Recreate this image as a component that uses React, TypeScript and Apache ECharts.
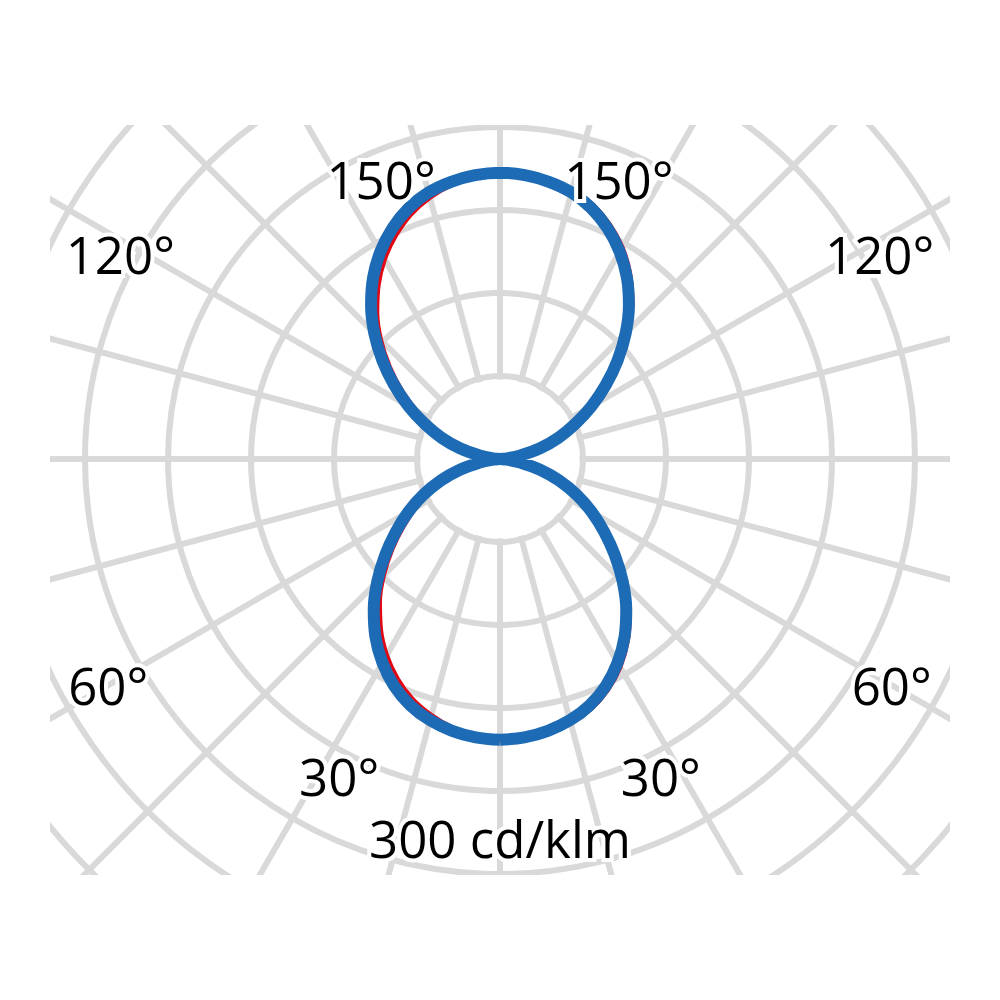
import React, { useEffect, useRef } from 'react';
import * as echarts from 'echarts';

// Photometric angles (gamma) in degrees, step 5, measured from the vertical axis
const GAMMA = [0, 5, 10, 15, 20, 25, 30, 35, 40, 45, 50, 55, 60, 65, 70, 75, 80, 85, 90];

// Intensities in cd/klm. "Lower" = downward lobe (gamma 0..90),
// "Upper" = upward lobe (listed by distance from the top: 0..90, i.e. gamma 180..90)
const BLUE_LOWER = [203, 202, 199.5, 195.5, 189.5, 181, 170, 157, 142, 125.5, 108.5, 92, 76.5, 61, 45.5, 30, 15, 5, 0];
const BLUE_UPPER = [207, 206, 203.5, 199.5, 193, 184, 173, 160, 145, 128.5, 111, 93.5, 76.5, 60, 45, 30, 15, 5, 0];

const RED_RIGHT_LOWER = [203, 202.5, 201, 198, 192.5, 184.5, 174, 161, 146, 129.5, 112.5, 95.5, 79.5, 63.5, 47.5, 31, 15.5, 5, 0];
const RED_RIGHT_UPPER = [207, 206.5, 205, 202, 196, 187.5, 177, 164, 149, 132.5, 115, 97, 79.5, 62.5, 47, 31, 15.5, 5, 0];
const RED_LEFT_LOWER = [203, 201, 197, 191.5, 184.5, 175, 163.5, 150, 135, 118.5, 101.5, 85, 69.5, 54.5, 40, 26, 13, 4.5, 0];
const RED_LEFT_UPPER = [207, 205, 201, 195.5, 188, 178, 166.5, 153, 138, 121.5, 104, 86.5, 69.5, 53.5, 39.5, 26, 13, 4.5, 0];

// Grid scale
const RADIUS_MAX = 480;
const RADIUS_STEP = 60;
const ANGLE_STEP = 15;

// Tick / unit labels
const ANGLE_LABELS = ['150°', '150°', '120°', '120°', '60°', '60°', '30°', '30°'];
const UNIT_LABEL = '300 cd/klm';

// Label placement (layout only): [radius in cd/klm, angle value]
const LABEL_PLACES: [number, number][] = [
  [220, 203], [220, 157],
  [312, 241.6], [312, 118.4],
  [327, 300], [327, 60],
  [257, 333.1], [257, 26.9],
];
const UNIT_PLACE: [number, number] = [274, 0];

function buildLoop(rightLower: number[], rightUpper: number[], leftUpper: number[], leftLower: number[]) {
  const pts: [number, number][] = [];
  for (let i = 0; i < GAMMA.length; i++) pts.push([rightLower[i], GAMMA[i]]);
  for (let i = GAMMA.length - 1; i >= 0; i--) pts.push([rightUpper[i], 180 - GAMMA[i]]);
  for (let i = 0; i < GAMMA.length; i++) pts.push([leftUpper[i], 180 + GAMMA[i]]);
  for (let i = GAMMA.length - 1; i >= 0; i--) pts.push([leftLower[i], 360 - GAMMA[i]]);
  return pts;
}

const CX = 500;
const CY = 459;
const PX_PER_STEP = 83;

// polar (value units, angle value counter-clockwise from the bottom) -> pixel
function toPx(r: number, a: number): [number, number] {
  const rp = (r / RADIUS_STEP) * PX_PER_STEP;
  const t = (a * Math.PI) / 180;
  return [CX + rp * Math.sin(t), CY + rp * Math.cos(t)];
}

export default function App() {
  const ref = useRef<HTMLDivElement>(null);

  useEffect(() => {
    if (!ref.current) return;
    const chart = echarts.init(ref.current, undefined, { renderer: 'svg' });
    const gridColor = '#d9d9d9';
    const font = "51px 'Open Sans', 'Noto Sans', sans-serif";

    const blue = buildLoop(BLUE_LOWER, BLUE_UPPER, BLUE_UPPER, BLUE_LOWER);
    const red = buildLoop(RED_RIGHT_LOWER, RED_RIGHT_UPPER, RED_LEFT_UPPER, RED_LEFT_LOWER);

    const texts = ANGLE_LABELS.map((t, i) => ({ text: t, pos: toPx(LABEL_PLACES[i][0], LABEL_PLACES[i][1]) }));
    texts.push({ text: UNIT_LABEL, pos: toPx(UNIT_PLACE[0], UNIT_PLACE[1]) });

    const textEls: any[] = [];
    texts.forEach((t) => {
      const common = {
        text: t.text,
        font,
        align: 'center',
        verticalAlign: 'middle',
        textAlign: 'center',
        textVerticalAlign: 'middle',
      };
      textEls.push({
        type: 'text', x: t.pos[0], y: t.pos[1], z: 10, silent: true,
        style: { ...common, fill: '#ffffff', stroke: '#ffffff', lineWidth: 8 },
      });
      textEls.push({
        type: 'text', x: t.pos[0], y: t.pos[1], z: 11, silent: true,
        style: { ...common, fill: '#000000' },
      });
    });

    const masks = [
      { type: 'circle', z: 1, shape: { cx: CX, cy: CY, r: PX_PER_STEP - 3.5 }, style: { fill: '#ffffff' }, silent: true },
      { type: 'rect', z: 1, shape: { x: 0, y: 0, width: 1000, height: 125 }, style: { fill: '#ffffff' }, silent: true },
      { type: 'rect', z: 1, shape: { x: 0, y: 875, width: 1000, height: 125 }, style: { fill: '#ffffff' }, silent: true },
      { type: 'rect', z: 1, shape: { x: 0, y: 0, width: 50, height: 1000 }, style: { fill: '#ffffff' }, silent: true },
      { type: 'rect', z: 1, shape: { x: 950, y: 0, width: 50, height: 1000 }, style: { fill: '#ffffff' }, silent: true },
    ];

    const option: any = {
      animation: false,
      backgroundColor: '#ffffff',
      polar: {
        center: [CX, CY],
        radius: (RADIUS_MAX / RADIUS_STEP) * PX_PER_STEP,
      },
      radiusAxis: {
        type: 'value',
        min: 0,
        max: RADIUS_MAX,
        interval: RADIUS_STEP,
        axisLine: { show: false },
        axisTick: { show: false },
        axisLabel: { show: false },
        splitLine: { show: true, lineStyle: { color: gridColor, width: 6 } },
      },
      angleAxis: {
        type: 'value',
        min: 0,
        max: 360,
        interval: ANGLE_STEP,
        startAngle: 270,
        clockwise: false,
        axisLine: { show: false },
        axisTick: { show: false },
        axisLabel: { show: false },
        splitLine: { show: true, lineStyle: { color: gridColor, width: 6 } },
      },
      graphic: [...masks, ...textEls],
      series: [
        {
          name: 'C0-C180',
          type: 'line',
          coordinateSystem: 'polar',
          data: red,
          showSymbol: false,
          smooth: 0.4,
          z: 3,
          lineStyle: { color: '#e30613', width: 4 },
        },
        {
          name: 'C90-C270',
          type: 'line',
          coordinateSystem: 'polar',
          data: blue,
          showSymbol: false,
          smooth: 0.4,
          z: 4,
          lineStyle: { color: '#1d6bb5', width: 12 },
        },
      ],
    };
    chart.setOption(option);
    return () => chart.dispose();
  }, []);

  return <div ref={ref} style={{ position: 'absolute', left: 0, top: 0, width: 1000, height: 1000 }} />;
}
